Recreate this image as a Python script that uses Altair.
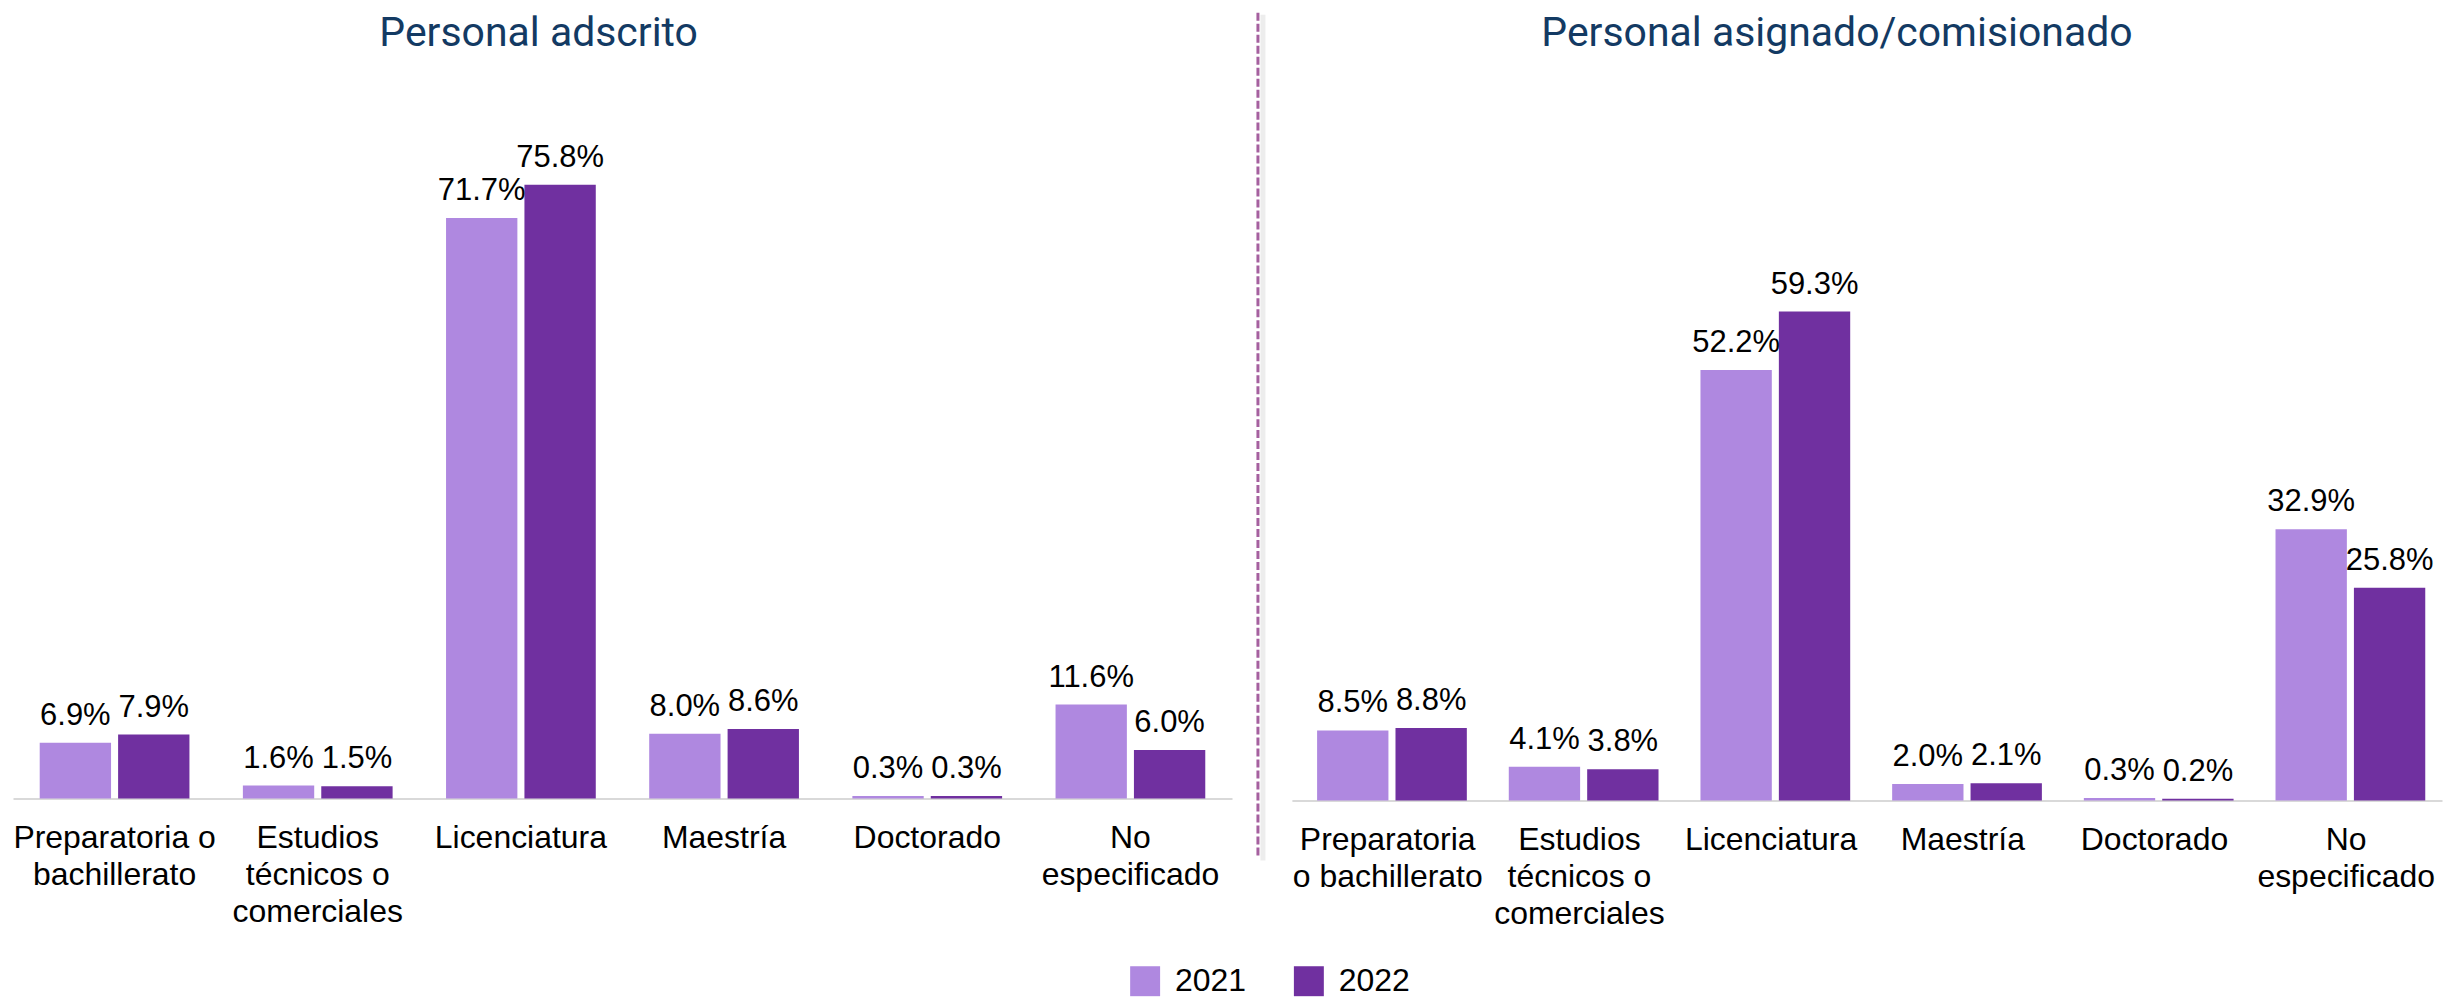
import altair as alt
import pandas as pd

# ---- data ----
years = ["2021", "2022"]
left_labels = ["Preparatoria o|bachillerato", "Estudios|técnicos o|comerciales",
               "Licenciatura", "Maestría", "Doctorado", "No|especificado"]
right_labels = ["Preparatoria|o bachillerato", "Estudios|técnicos o|comerciales",
                "Licenciatura", "Maestría", "Doctorado", "No|especificado"]
left_2021 = [6.9, 1.6, 71.7, 8.0, 0.3, 11.6]
left_2022 = [7.9, 1.5, 75.8, 8.6, 0.3, 6.0]
right_2021 = [8.5, 4.1, 52.2, 2.0, 0.3, 32.9]
right_2022 = [8.8, 3.8, 59.3, 2.1, 0.2, 25.8]
titles = ["Personal adscrito", "Personal asignado/comisionado"]
colors = ["#AF88E0", "#7030A0"]


def make_df(labels, v21, v22):
    rows = []
    for lab, a, b in zip(labels, v21, v22):
        rows.append({"cat": lab, "year": years[0], "value": a, "txt": f"{a:.1f}%"})
        rows.append({"cat": lab, "year": years[1], "value": b, "txt": f"{b:.1f}%"})
    return pd.DataFrame(rows)


FONT = "Liberation Sans"

legend = alt.Legend(title=None, orient="none", legendX=1118, legendY=881,
                    direction="horizontal", symbolType="square", symbolSize=900,
                    symbolStrokeWidth=0, symbolOpacity=1, labelFontSize=32,
                    labelFont=FONT, labelColor="black", labelOffset=14,
                    columnPadding=46, padding=0)


def panel(labels, v21, v22, title, dx, width, height, ymax):
    df = make_df(labels, v21, v22)
    base = alt.Chart(df).encode(
        x=alt.X("cat:N", sort=labels,
                scale=alt.Scale(paddingInner=0.263, paddingOuter=0.1315),
                axis=alt.Axis(title=None, labelAngle=0,
                              labelExpr="split(datum.label, '|')",
                              labelFontSize=32, labelFont=FONT, labelColor="black",
                              labelLineHeight=37, labelPadding=24, ticks=False,
                              tickSize=0, domainColor="#D9D9D9", domainWidth=2,
                              labelLimit=400)),
        xOffset=alt.XOffset("year:N", sort=years, scale=alt.Scale(paddingInner=0.09)),
        y=alt.Y("value:Q", scale=alt.Scale(domain=[0, ymax]), axis=None),
    )
    bars = base.mark_bar().encode(
        color=alt.Color("year:N", sort=years,
                        scale=alt.Scale(domain=years, range=colors), legend=legend)
    )
    text = base.mark_text(dy=-18, baseline="alphabetic", fontSize=31, font=FONT,
                          color="black").encode(text="txt:N")
    return alt.layer(bars, text).properties(
        width=width, height=height,
        title=alt.TitleParams(title, font="Roboto", fontSize=41, fontWeight="normal",
                              color="#133A63", anchor="middle", dx=dx, offset=31),
    )


left = panel(left_labels, left_2021, left_2022, titles[0], -84, 1221, 714, 714 / 8.11)
right = panel(right_labels, right_2021, right_2022, titles[1], -30, 1152, 716, 716 / 8.26)

one = pd.DataFrame({"d": [0]})
shadow = alt.Chart(one).mark_rule(color="#E6E6E6", strokeWidth=5, opacity=0.7).encode(
    x=alt.value(6), y=alt.value(-71), y2=alt.value(776))
rule = alt.Chart(one).mark_rule(color="#A5609F", strokeWidth=3, strokeDash=[8, 3]).encode(
    x=alt.value(1), y=alt.value(-73), y2=alt.value(774))
divider = alt.layer(shadow, rule).properties(width=10, height=714)

chart = alt.hconcat(left, divider, right, spacing=25, bounds="flush").properties(
    padding={"left": 4, "top": 2, "right": 0, "bottom": 0}
).configure_view(stroke="transparent")

chart.save("out.html", embed_options={"renderer": "svg", "actions": False})
